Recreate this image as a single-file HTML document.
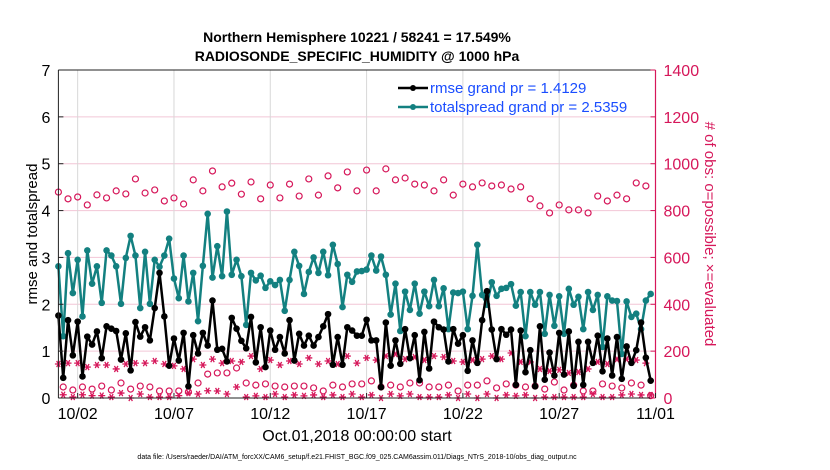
<!DOCTYPE html>
<html><head><meta charset="utf-8"><style>
body{margin:0;background:#fff;}
svg{display:block;font-family:"Liberation Sans",sans-serif;}
</style></head><body>
<svg id="chart" width="830" height="470">
<rect width="830" height="470" fill="#fff"/>
<g id="grid"></g><g id="marks"></g><g id="axes"></g>
<text x="357" y="42" text-anchor="middle" font-size="14" font-weight="bold">Northern Hemisphere 10221 / 58241 = 17.549%</text>
<text x="357" y="61" text-anchor="middle" font-size="14" font-weight="bold">RADIOSONDE_SPECIFIC_HUMIDITY @ 1000 hPa</text>
<text transform="translate(37,234) rotate(-90)" text-anchor="middle" font-size="15">rmse and totalspread</text>
<text transform="translate(705,234) rotate(90)" text-anchor="middle" font-size="15" fill="#d6175a"># of obs: o=possible; ×=evaluated</text>
<text x="357" y="441" text-anchor="middle" font-size="16">Oct.01,2018 00:00:00 start</text>
<text x="357" y="459" text-anchor="middle" font-size="7">data file: /Users/raeder/DAI/ATM_forcXX/CAM6_setup/f.e21.FHIST_BGC.f09_025.CAM6assim.011/Diags_NTrS_2018-10/obs_diag_output.nc</text>
<g>
<line x1="398" y1="88" x2="428" y2="88" stroke="#000" stroke-width="2.5"/><circle cx="413" cy="88" r="3" fill="#000"/>
<text x="430" y="93" font-size="15" fill="#1a4dff">rmse grand pr = 1.4129</text>
<line x1="398" y1="107" x2="428" y2="107" stroke="#138080" stroke-width="2.5"/><circle cx="413" cy="107" r="3" fill="#138080"/>
<text x="430" y="112" font-size="15" fill="#1a4dff">totalspread grand pr = 2.5359</text>
</g>
</svg>
<script>
const xTickLabels=["10/02","10/07","10/12","10/17","10/22","10/27","11/01"];
const xTickDays=[1,6,11,16,21,26,31];
const yTicks=[0,1,2,3,4,5,6,7];
const y2Ticks=[0,200,400,600,800,1000,1200,1400];
const rmse=[1.76,0.43,1.66,0.91,1.63,0.46,1.31,1.14,1.42,0.85,1.53,1.48,1.43,0.82,1.38,0.59,1.62,1.31,1.51,1.23,1.92,2.67,1.74,0.69,1.27,0.80,1.39,0.25,1.34,0.95,1.39,1.12,
2.08,1.03,1.05,0.78,1.71,1.48,1.22,1.06,1.73,0.76,1.51,0.66,1.44,1.03,1.30,0.95,1.66,0.80,1.37,1.12,1.33,1.12,1.30,1.53,1.79,0.71,1.30,0.71,1.51,1.44,1.33,
1.33,1.67,1.23,1.23,0.23,1.61,0.69,1.23,0.73,1.47,0.85,1.34,0.38,1.41,0.63,1.63,1.51,1.46,0.78,1.47,1.16,1.34,0.58,1.23,0.75,1.66,2.28,1.46,0.83,1.47,1.35,
1.46,0.28,1.44,0.55,1.02,0.25,1.53,0.39,0.97,0.48,1.39,0.50,1.42,0.26,1.20,0.28,1.20,0.75,1.33,0.57,1.27,0.48,1.30,0.41,1.10,0.75,1.02,1.61,0.86,0.37];
const spread=[2.81,1.32,3.09,2.24,2.95,1.74,3.15,2.44,2.81,2.03,3.15,3.04,2.81,2.01,2.99,3.46,3.04,1.92,3.12,2.01,2.95,2.80,3.04,3.40,2.55,2.13,3.04,2.06,2.67,1.64,2.82,3.93,
2.57,3.24,2.60,3.98,2.63,2.95,2.60,1.56,2.67,2.51,2.61,2.35,2.49,2.41,2.52,1.86,2.52,3.12,2.82,2.22,2.69,3.00,2.67,3.12,2.62,3.27,2.86,1.94,2.63,2.48,2.70,
2.71,2.74,3.04,2.72,3.02,2.63,1.78,2.44,1.43,2.27,1.88,2.44,1.80,2.27,1.96,2.52,1.96,2.34,1.47,2.25,2.24,2.27,1.47,2.18,3.27,2.20,1.99,2.47,2.18,2.33,2.35,
2.43,1.97,2.26,1.32,2.26,1.99,2.26,1.37,2.20,1.54,2.17,1.37,2.33,1.99,2.16,1.47,2.26,1.88,2.20,1.09,2.17,2.08,2.07,0.94,2.06,1.73,1.80,1.47,2.08,2.22];
const possible=[879,47,850,34,858,47,824,38,867,51,854,34,884,64,871,38,935,51,875,47,888,30,841,30,854,30,828,26,931,64,884,102,
969,107,901,107,917,128,870,64,922,55,850,60,909,51,854,47,913,51,862,51,935,43,866,30,948,55,897,47,965,60,
884,60,973,73,884,47,978,55,931,47,939,64,913,64,909,47,884,47,931,55,866,30,913,55,901,55,918,73,905,43,909,60,
892,55,901,47,850,51,820,38,790,68,824,34,803,55,803,30,790,30,862,60,841,51,866,43,850,64,918,55,905,10];
const evaluated=[145,14,149,4,149,14,132,10,141,10,141,4,124,21,145,0,149,17,149,4,158,4,145,4,137,10,124,21,166,17,141,31,
166,30,149,17,158,47,154,4,179,9,124,4,162,17,141,4,158,13,145,9,171,13,145,4,158,13,145,4,179,17,
149,4,171,13,162,0,179,17,188,9,166,17,175,4,162,4,179,4,175,13,158,0,154,17,162,0,166,17,179,0,166,13,
192,9,154,13,154,0,124,4,115,4,120,4,107,4,111,4,124,17,154,4,145,4,166,13,166,17,162,13,149,13];

const L=58.4,R=655.5,T=70,B=398,D0=0,D1=31;
const X=d=>L+(d-D0)/(D1-D0)*(R-L);
const Y=v=>B-v/7*(B-T);
const Y2=v=>B-v/1400*(B-T);
const dayOf=i=>i*0.25;
const NS="http://www.w3.org/2000/svg";
function mk(tag,attrs,parent){const e=document.createElementNS(NS,tag);for(const k in attrs)e.setAttribute(k,attrs[k]);parent.appendChild(e);return e;}
const grid=document.getElementById('grid'),marks=document.getElementById('marks'),axes=document.getElementById('axes');
mk('rect',{x:L,y:T,width:R-L,height:B-T,fill:'#fff'},grid);
y2Ticks.forEach(v=>{if(v>0&&v<1400){const g=mk('line',{x1:L,x2:R,y1:Y2(v),y2:Y2(v),stroke:'#f2c6d6','stroke-width':1},grid);

}});
xTickDays.forEach(d=>{const g=mk('line',{x1:X(d),x2:X(d),y1:T,y2:B,stroke:'#d8d8d8','stroke-width':1},grid);

});
// possible circles
possible.forEach((v,i)=>{const c=mk('circle',{cx:X(dayOf(i)),cy:Y2(v),r:3,fill:'none',stroke:'#d6175a','stroke-width':1.2},marks);

});
// evaluated stars
evaluated.forEach((v,i)=>{const cx=X(dayOf(i)),cy=Y2(v),r=3.5;
const p=mk('path',{d:`M${cx-r} ${cy}H${cx+r}M${cx-r*0.5} ${cy-r*0.87}L${cx+r*0.5} ${cy+r*0.87}M${cx+r*0.5} ${cy-r*0.87}L${cx-r*0.5} ${cy+r*0.87}`,stroke:'#d6175a','stroke-width':1.3},marks);

});
function series(vals,color,name){
const pl=mk('polyline',{points:vals.map((v,i)=>X(dayOf(i))+','+Y(v)).join(' '),fill:'none',stroke:color,'stroke-width':2.5,'stroke-linejoin':'round'},marks);


vals.forEach((v,i)=>{const c=mk('circle',{cx:X(dayOf(i)),cy:Y(v),r:3.3,fill:color},marks);

});}
series(spread,'#138080','totalspread');
series(rmse,'#000','rmse');
// axes
mk('line',{x1:L,x2:L,y1:T,y2:B,stroke:'#222','stroke-width':1},axes);
mk('line',{x1:L,x2:R,y1:T,y2:T,stroke:'#222','stroke-width':1},axes);
mk('line',{x1:L,x2:R,y1:B,y2:B,stroke:'#222','stroke-width':1},axes);
mk('line',{x1:R,x2:R,y1:T,y2:B,stroke:'#d6175a','stroke-width':1.2},axes);
yTicks.forEach(v=>{mk('line',{x1:L,x2:L+5,y1:Y(v),y2:Y(v),stroke:'#222'},axes);
const t=mk('text',{x:L-8,y:Y(v)+6,'text-anchor':'end','font-size':16},axes);t.textContent=v;

});
y2Ticks.forEach(v=>{mk('line',{x1:R-5,x2:R,y1:Y2(v),y2:Y2(v),stroke:'#d6175a'},axes);
const t=mk('text',{x:R+8,y:Y2(v)+6,'font-size':16,fill:'#d6175a'},axes);t.textContent=v;

});
xTickDays.forEach((d,i)=>{mk('line',{x1:X(d),x2:X(d),y1:B,y2:B-5,stroke:'#222'},axes);
const t=mk('text',{x:X(d),y:B+21,'text-anchor':'middle','font-size':16},axes);t.textContent=xTickLabels[i];

});
</script>
</body></html>
